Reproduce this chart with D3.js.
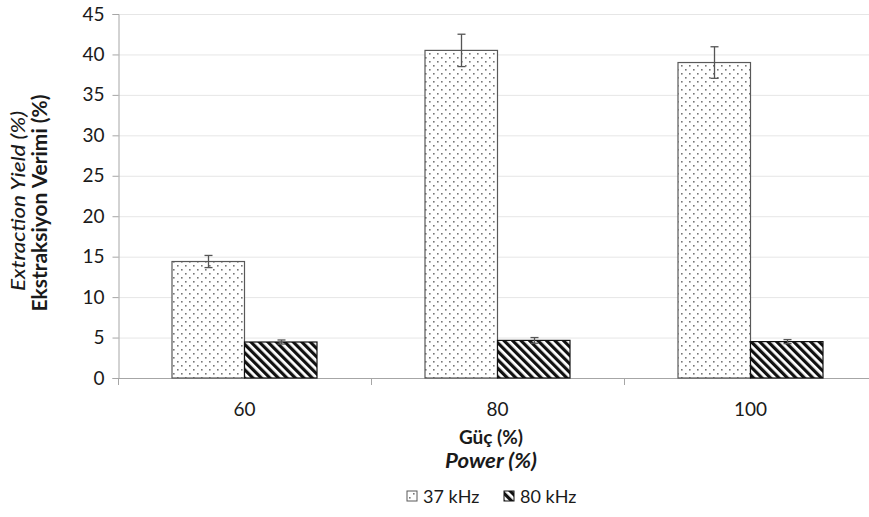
<!DOCTYPE html>
<html><head><meta charset="utf-8">
<script src="https://cdn.jsdelivr.net/npm/d3@7"></script>
<style>body{margin:0;background:#fff}svg{display:block}text{font-family:Lato,"Open Sans",sans-serif;fill:#1a1a1a}</style>
</head><body>
<svg id="c" width="869" height="517"></svg>
<script>
const categories = ["60", "80", "100"];
const series = ["37 kHz", "80 kHz"];
const values37 = [14.4, 40.5, 39.0];
const errors37 = [0.75, 2.0, 1.95];
const values80 = [4.45, 4.65, 4.5];
const errors80 = [0.25, 0.35, 0.25];
const yTicks = [0, 5, 10, 15, 20, 25, 30, 35, 40, 45];

const FONT = "Lato,'Open Sans',sans-serif";
const svg = d3.select("#c");
const defs = svg.append("defs");
const pd = defs.append("pattern").attr("id","dots").attr("patternUnits","userSpaceOnUse")
  .attr("width",8).attr("height",8);
pd.append("rect").attr("width",8).attr("height",8).attr("fill","#fff");
pd.append("rect").attr("x",1).attr("y",1).attr("width",1.6).attr("height",1.6).attr("fill","#777");
pd.append("rect").attr("x",5).attr("y",5).attr("width",1.6).attr("height",1.6).attr("fill","#777");
const ph = defs.append("pattern").attr("id","hatch").attr("patternUnits","userSpaceOnUse")
  .attr("width",6).attr("height",6).attr("patternTransform","rotate(-45)");
ph.append("rect").attr("width",6).attr("height",6).attr("fill","#fff");
ph.append("rect").attr("x",0).attr("y",0).attr("width",3.2).attr("height",6).attr("fill","#111");

const x0 = 118, x1 = 877;
const y = d3.scaleLinear().domain([0,45]).range([378,14]);
const x = d3.scaleBand().domain(categories).range([x0,x1]).paddingInner(0).paddingOuter(0);
const xs = d3.scaleBand().domain(series).range([54, 54+145]);

svg.append("g").selectAll("line").data(yTicks.filter(d=>d>0)).join("line")
  .attr("x1",x0).attr("x2",869).attr("y1",d=>y(d)+0.5).attr("y2",d=>y(d)+0.5)
  .attr("stroke","#e6e6e6").attr("stroke-width",1);

const ya = svg.append("g").attr("transform",`translate(${x0+0.5},0)`)
  .call(d3.axisLeft(y).tickValues(yTicks).tickSize(6).tickPadding(8));
ya.select(".domain").attr("stroke","#a6a6a6");
ya.selectAll(".tick line").attr("stroke","#a6a6a6");
ya.selectAll("text").attr("font-size",19).attr("fill","#1a1a1a").style("font-family",FONT);

svg.append("line").attr("x1",x0).attr("x2",869).attr("y1",378.5).attr("y2",378.5).attr("stroke","#a6a6a6");
svg.append("g").selectAll("line").data(categories).join("line")
  .attr("x1",d=>Math.round(x(d))+0.5).attr("x2",d=>Math.round(x(d))+0.5)
  .attr("y1",378).attr("y2",385).attr("stroke","#a6a6a6");
svg.append("g").selectAll("text").data(categories).join("text")
  .attr("x",d=>x(d)+x.bandwidth()/2).attr("y",416).attr("text-anchor","middle")
  .attr("font-size",19).text(d=>d);

const data = [];
categories.forEach((c,i)=>{
  data.push({c, s:series[0], v:values37[i], e:errors37[i]});
  data.push({c, s:series[1], v:values80[i], e:errors80[i]});
});
const g = svg.append("g");
g.selectAll("rect").data(data).join("rect")
  .attr("x",d=>x(d.c)+xs(d.s)).attr("width",xs.bandwidth())
  .attr("y",d=>y(d.v)).attr("height",d=>y(0)-y(d.v))
  .attr("fill",d=>d.s===series[0]?"url(#dots)":"url(#hatch)")
  .attr("stroke",d=>d.s===series[0]?"#595959":"#111").attr("stroke-width",1.2);

const eb = svg.append("g").attr("stroke","#555").attr("stroke-width",1.3);
data.forEach(d=>{
  const cx = Math.round(x(d.c)+xs(d.s)+xs.bandwidth()/2)+0.5;
  eb.append("line").attr("x1",cx).attr("x2",cx).attr("y1",y(d.v+d.e)).attr("y2",y(d.v-d.e));
  eb.append("line").attr("x1",cx-4).attr("x2",cx+4).attr("y1",y(d.v+d.e)).attr("y2",y(d.v+d.e));
  eb.append("line").attr("x1",cx-4).attr("x2",cx+4).attr("y1",y(d.v-d.e)).attr("y2",y(d.v-d.e));
});

svg.append("text").attr("transform","translate(25,201) rotate(-90)").attr("text-anchor","middle")
  .attr("font-size",20).attr("font-style","italic").attr("font-weight",500)
  .attr("textLength",180).attr("lengthAdjust","spacingAndGlyphs").text("Extraction Yield (%)");
svg.append("text").attr("transform","translate(47,203) rotate(-90)").attr("text-anchor","middle")
  .attr("font-size",20).attr("font-weight","bold")
  .attr("textLength",217).attr("lengthAdjust","spacingAndGlyphs").text("Ekstraksiyon Verimi (%)");
svg.append("text").attr("x",491).attr("y",444).attr("text-anchor","middle")
  .attr("font-size",19).attr("font-weight","bold").text("Güç (%)");
svg.append("text").attr("x",491).attr("y",468).attr("text-anchor","middle")
  .attr("font-size",20).attr("font-weight","bold").attr("font-style","italic")
  .attr("textLength",92).attr("lengthAdjust","spacingAndGlyphs").text("Power (%)");

const legX = [407, 504];
series.forEach((s,i)=>{
  svg.append("rect").attr("x",legX[i]).attr("y",491).attr("width",10).attr("height",10)
    .attr("fill",i===0?"url(#dots)":"url(#hatch)").attr("stroke",i===0?"#595959":"#111");
  svg.append("text").attr("x",legX[i]+16).attr("y",503).attr("font-size",18).text(s);
});
</script>
</body></html>
